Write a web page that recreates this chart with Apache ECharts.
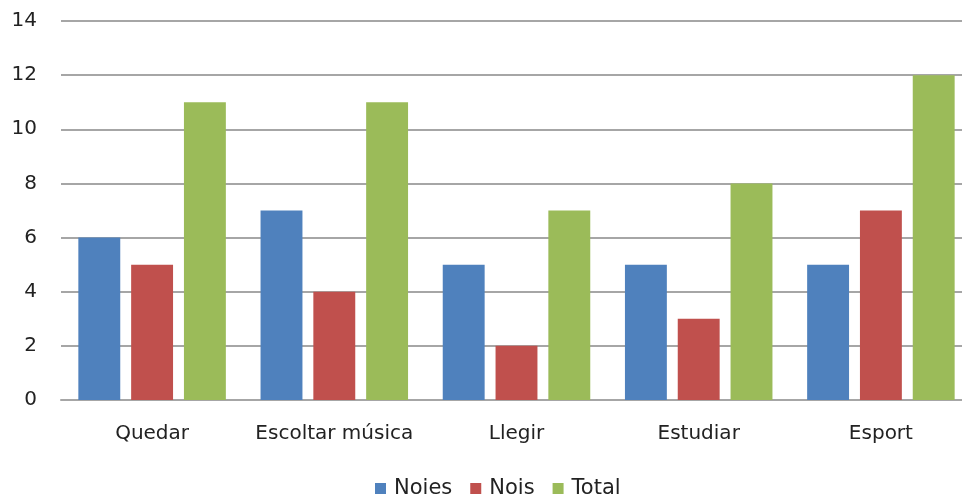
<!DOCTYPE html>
<html><head><meta charset="utf-8">
<script src="https://cdn.jsdelivr.net/npm/echarts@6/dist/echarts.min.js"></script>
<style>html,body{margin:0;padding:0;background:#fff}#c{width:962px;height:499px}</style>
</head><body><div id="c"></div>
<script>
var categories = ['Quedar', 'Escoltar música', 'Llegir', 'Estudiar', 'Esport'];
var noies = [6, 7, 5, 5, 5];
var nois = [5, 4, 2, 3, 7];
var total = [11, 11, 7, 8, 12];
var yTicks = {min: 0, max: 14, interval: 2};

var font = 'DejaVu Sans';
var chart = echarts.init(document.getElementById('c'));
function bar(name, data, color) {
  return {name: name, type: 'bar', data: data, barWidth: '23%', barGap: '26%',
    itemStyle: {color: color}};
}
chart.setOption({
  animation: false,
  textStyle: {fontFamily: font},
  grid: {left: 61, width: 911, top: 21, height: 379, containLabel: false, outerBoundsMode: 'none'},
  legend: {top: 473, left: 370, itemWidth: 11, itemHeight: 11, itemGap: 18,
    icon: 'rect', textStyle: {fontFamily: font, fontSize: 21, color: '#222', padding: [0, 0, 0, 3]},
    data: ['Noies', 'Nois', 'Total']},
  xAxis: {type: 'category', data: categories,
    axisLine: {lineStyle: {color: '#a6a6a6', width: 2}},
    axisTick: {show: false},
    axisLabel: {interval: 0, margin: 24, fontSize: 20, color: '#222', fontFamily: font}},
  yAxis: {type: 'value', min: yTicks.min, max: yTicks.max, interval: yTicks.interval,
    axisLine: {show: false}, axisTick: {show: false},
    axisLabel: {margin: 24, fontSize: 20, color: '#222', fontFamily: font},
    splitLine: {lineStyle: {color: '#a6a6a6', width: 2}}},
  series: [bar('Noies', noies, '#4f81bd'), bar('Nois', nois, '#c0504d'), bar('Total', total, '#9bbb59')]
});
</script></body></html>
